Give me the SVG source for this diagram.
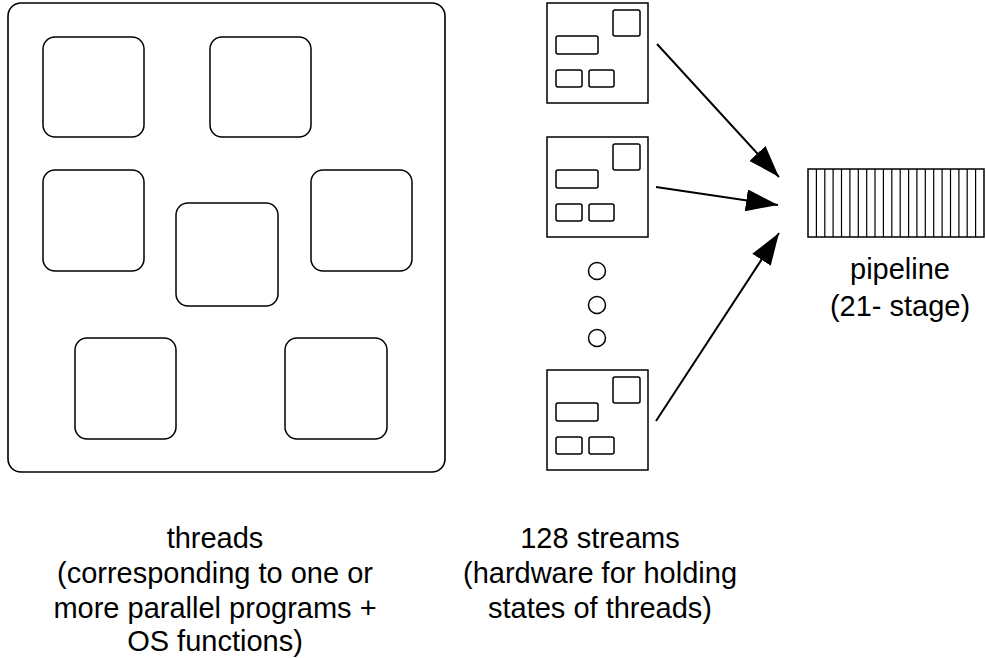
<svg xmlns="http://www.w3.org/2000/svg" width="986" height="658" viewBox="0 0 986 658">
<style>
.ln{fill:none;stroke:#000;stroke-width:1.5}
.frame{fill:none;stroke:#000;stroke-width:1.6}
.sq{fill:none;stroke:#000;stroke-width:1.5}
.cell{fill:none;stroke:#000;stroke-width:1.2}
.arr{fill:none;stroke:#000;stroke-width:2}
text{font-family:"Liberation Sans",Arial,Helvetica,sans-serif;font-size:29px;fill:#000;text-anchor:middle}
</style>
<defs>
<marker id="ah" viewBox="0 0 32 22" refX="32" refY="11" markerWidth="32" markerHeight="22" markerUnits="userSpaceOnUse" orient="auto">
<path d="M0,0 L32,11 L0,22 Z" fill="#000"/>
</marker>
<g id="streamShape">
<rect class="ln" x="0" y="0" width="101" height="100"/>
<rect class="ln" x="66" y="7" width="27" height="26" rx="2"/>
<rect class="ln" x="9" y="33" width="42" height="18" rx="2"/>
<rect class="ln" x="9" y="67" width="26" height="17" rx="2"/>
<rect class="ln" x="42" y="67" width="25" height="17" rx="2"/>
</g>
</defs>

<g id="threads">
<rect class="frame" x="8" y="3" width="437" height="469" rx="13"/>
<rect id="t1" class="sq" x="43" y="37" width="101" height="100" rx="12"/>
<rect id="t2" class="sq" x="210" y="37" width="101" height="100" rx="12"/>
<rect id="t3" class="sq" x="43" y="170" width="101" height="101" rx="12"/>
<rect id="t4" class="sq" x="176" y="203" width="102" height="103" rx="12"/>
<rect id="t5" class="sq" x="311" y="170" width="101" height="101" rx="12"/>
<rect id="t6" class="sq" x="75" y="338" width="101" height="101" rx="12"/>
<rect id="t7" class="sq" x="285" y="338" width="102" height="101" rx="12"/>
</g>

<g id="stream1"><use href="#streamShape" x="547" y="3"/></g>
<g id="stream2"><use href="#streamShape" x="547" y="137"/></g>
<g id="stream3"><use href="#streamShape" x="547" y="370"/></g>

<g id="dots">
<circle class="ln" cx="597" cy="271" r="8.5"/>
<circle class="ln" cx="597" cy="305" r="8.5"/>
<circle class="ln" cx="597" cy="338" r="8.5"/>
</g>

<g id="pipeline">
<rect class="ln" x="808" y="169" width="176" height="68"/>
<path class="cell" d="M816.4,169V237M824.8,169V237M833.1,169V237M841.5,169V237M849.9,169V237M858.3,169V237M866.7,169V237M875.0,169V237M883.4,169V237M891.8,169V237M900.2,169V237M908.6,169V237M916.9,169V237M925.3,169V237M933.7,169V237M942.1,169V237M950.5,169V237M958.9,169V237M967.2,169V237M975.6,169V237"/>
</g>

<g id="connectors">
<line class="arr" x1="657" y1="44" x2="779" y2="177" marker-end="url(#ah)"/>
<line class="arr" x1="656" y1="187" x2="778" y2="205" marker-end="url(#ah)"/>
<line class="arr" x1="656" y1="421" x2="779" y2="233" marker-end="url(#ah)"/>
</g>

<g id="labels">
<text x="900" y="279">pipeline</text>
<text x="900" y="316">(21- stage)</text>
<text x="215" y="548">threads</text>
<text x="215" y="583">(corresponding to one or</text>
<text x="215" y="618">more parallel programs +</text>
<text x="215" y="651">OS functions)</text>
<text x="600" y="548">128 streams</text>
<text x="600" y="583">(hardware for holding</text>
<text x="600" y="618">states of threads)</text>
</g>
</svg>
